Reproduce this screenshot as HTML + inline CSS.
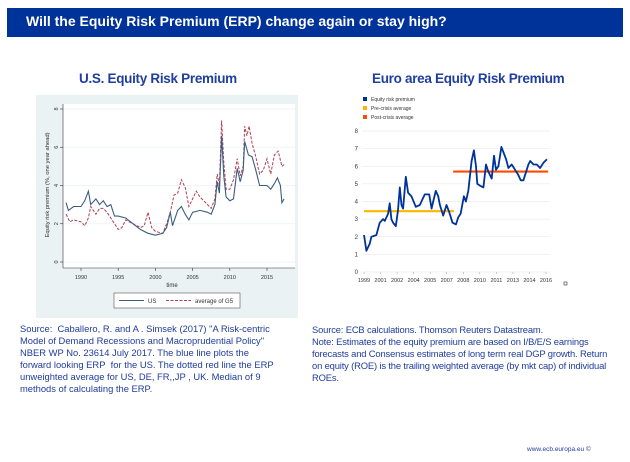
<!DOCTYPE html>
<html><head><meta charset="utf-8"><style>
body{margin:0;width:630px;height:462px;background:#fff;font-family:"Liberation Sans",sans-serif;position:relative;overflow:hidden}
.t{position:absolute;white-space:nowrap}
.note{position:absolute;font-size:9.4px;line-height:12px;color:#1f3c9c;letter-spacing:0px;white-space:nowrap}
</style></head><body>
<div style="position:absolute;left:7px;top:8px;width:616px;height:29px;background:#003399"></div>
<div class="t" style="left:26px;top:13px;font-size:14px;font-weight:bold;color:#fff">Will the Equity Risk Premium (ERP) change again or stay high?</div>
<div class="t" style="left:79px;top:71px;font-size:13.5px;font-weight:bold;color:#1f3f9f;letter-spacing:-0.3px">U.S. Equity Risk Premium</div>
<div class="t" style="left:372px;top:71px;font-size:13.5px;font-weight:bold;color:#1f3f9f;letter-spacing:-0.3px">Euro area Equity Risk Premium</div>
<svg id="svg" width="630" height="462" style="position:absolute;left:0;top:0" font-family="Liberation Sans, sans-serif"></svg>
<div class="note" style="left:20px;top:323px">Source:&nbsp; Caballero, R. and A . Simsek (2017) "A Risk-centric<br>Model of Demand Recessions and Macroprudential Policy"<br>NBER WP No. 23614 July 2017. The blue line plots the<br>forward looking ERP&nbsp; for the US. The dotted red line the ERP<br>unweighted average for US, DE, FR,,JP , UK. Median of 9<br>methods of calculating the ERP.</div>
<div class="note" style="left:312px;top:324px;letter-spacing:-0.15px">Source: ECB calculations. Thomson Reuters Datastream.<br>Note: Estimates of the equity premium are based on I/B/E/S earnings<br>forecasts and Consensus estimates of long term real DGP growth. Return<br>on equity (ROE) is the trailing weighted average (by mkt cap) of individual<br>ROEs.</div>
<div class="t" style="left:527px;top:446px;font-size:6.5px;color:#1f3c9c">www.ecb.europa.eu ©</div>
<script>
// US chart data
const usYears=[1988,1988.3,1989,1990,1990.5,1991,1991.3,1992,1992.5,1993,1993.5,1994,1994.5,1995,1996,1997,1998,1999,2000,2001,2001.5,2002,2002.3,2003,2003.5,2004,2004.5,2005,2006,2007,2007.5,2008,2008.3,2008.6,2008.9,2009.2,2009.5,2010,2010.5,2011,2011.4,2011.8,2012,2012.5,2013,2013.5,2014,2015,2015.5,2016,2016.4,2016.8,2017,2017.3];
const usValues=[3.1,2.7,2.9,2.9,3.2,3.7,3.0,3.3,3.0,3.2,2.9,3.0,2.4,2.4,2.3,2.0,1.7,1.5,1.4,1.5,1.8,2.6,1.9,2.7,2.9,2.5,2.2,2.6,2.7,2.6,2.5,3.0,4.2,3.6,6.6,4.5,3.4,3.2,3.3,4.9,4.2,4.8,6.3,5.6,5.5,4.8,4.0,4.0,3.8,4.1,4.4,4.0,3.1,3.3];
const g5Years=[1988,1988.5,1989,1990,1990.5,1991,1991.3,1992,1992.5,1993,1993.5,1994,1995,1995.5,1996,1997,1998,1998.5,1999,1999.5,2000,2001,2001.5,2002,2002.5,2003,2003.5,2004,2004.5,2005,2005.5,2006,2006.5,2007,2007.5,2008,2008.3,2008.6,2008.9,2009.2,2009.5,2010,2010.5,2011,2011.4,2011.8,2012,2012.3,2012.6,2013,2013.5,2014,2014.5,2015,2015.5,2016,2016.5,2017,2017.3];
const g5Values=[2.5,2.1,2.2,2.1,1.9,2.3,2.9,2.5,2.8,2.8,2.6,2.3,1.7,1.8,2.2,2.0,1.8,1.9,2.6,1.8,1.6,1.5,2.0,2.6,3.5,3.6,4.3,3.9,2.9,3.3,3.7,3.4,3.2,3.0,2.8,3.3,4.6,4.0,7.4,5.2,3.8,3.8,4.3,5.4,4.5,5.0,7.1,6.6,7.1,6.2,5.5,4.6,4.8,5.4,4.6,5.6,5.8,5.0,5.1];
const usXTicks=[1990,1995,2000,2005,2010,2015];
const usYTicks=[0,2,4,6,8];
// Euro chart data
const euYears=[1999.0,1999.22,1999.53,1999.69,2000.16,2000.47,2000.78,2000.94,2001.25,2001.4,2001.56,2001.72,2001.97,2002.18,2002.34,2002.5,2002.65,2002.9,2003.12,2003.43,2003.84,2004.21,2004.68,2005.09,2005.31,2005.46,2005.71,2005.93,2006.09,2006.4,2006.71,2006.96,2007.27,2007.59,2007.8,2008.02,2008.33,2008.52,2008.74,2009.05,2009.27,2009.46,2009.58,2009.83,2010.15,2010.4,2010.61,2010.93,2011.14,2011.33,2011.55,2011.83,2012.02,2012.27,2012.49,2012.8,2013.11,2013.42,2013.64,2013.89,2014.36,2014.52,2014.83,2015.14,2015.45,2015.77,2016.08];
const euValues=[2.1,1.2,1.6,2.0,2.1,2.8,3.0,2.9,3.3,3.9,3.0,2.8,2.6,3.5,4.8,3.8,3.6,5.4,4.5,4.3,3.7,3.8,4.4,4.4,3.6,4.0,4.6,4.3,3.8,3.2,3.8,3.4,2.8,2.7,3.1,3.3,4.3,4.0,4.6,6.3,6.9,6.0,5.0,4.9,4.8,6.1,5.7,5.3,6.6,5.8,6.0,7.1,6.8,6.4,5.9,6.1,5.8,5.5,5.2,5.2,6.1,6.3,6.1,6.1,5.9,6.2,6.4];
const euPre=[1999.0,2007.4,3.45];
const euPost=[2007.33,2016.2,5.7];
const euXLabels=["1999","2001","2002","2004","2005","2007","2008","2010","2011","2013","2014","2016"];
const euYTicks=[0,1,2,3,4,5,6,7,8];

const svg=document.getElementById('svg');
const NS='http://www.w3.org/2000/svg';
function mk(tag,attrs,parent){const e=document.createElementNS(NS,tag);for(const k in attrs)e.setAttribute(k,attrs[k]);(parent||svg).appendChild(e);return e;}
function txt(x,y,s,size,fill,anchor,parent){const e=mk('text',{x:x,y:y,'font-size':size,fill:fill,'text-anchor':anchor||'start'},parent);e.textContent=s;return e;}

// ---- US chart
const ux=y=>81+(y-1990)*(186/25);
const uy=v=>262-v*(153/8);
const bg=mk('rect',{x:36,y:95,width:262,height:223,fill:'#eaf2f3'});


const pa=mk('rect',{x:63,y:104,width:232,height:164,fill:'#fff'});


usYTicks.forEach(v=>{
  const g=mk('line',{x1:63,x2:295,y1:uy(v),y2:uy(v),stroke:'#eaf2f3','stroke-width':0.8});
  
  
  mk('line',{x1:60,x2:63,y1:uy(v),y2:uy(v),stroke:'#333','stroke-width':0.6});
  const t=txt(58,uy(v),String(v),5.5,'#333','middle');
  t.setAttribute('transform',`rotate(-90 58 ${uy(v)})`);
  
  
});
mk('line',{x1:63,x2:63,y1:104,y2:268,stroke:'#333','stroke-width':0.6});
mk('line',{x1:63,x2:295,y1:268,y2:268,stroke:'#333','stroke-width':0.6});
usXTicks.forEach(y=>{
  mk('line',{x1:ux(y),x2:ux(y),y1:268,y2:271,stroke:'#333','stroke-width':0.6});
  const t=txt(ux(y),279,String(y),5.5,'#333','middle');
  
  
});
const xt=txt(172,287,'time',6,'#333','middle');


const yt=txt(49,185,'Equity risk premium (%, one year ahead)',5.8,'#333','middle');
yt.setAttribute('transform','rotate(-90 49 185)');


function pts(xs,vs,fx,fy){return xs.map((x,i)=>fx(x).toFixed(1)+','+fy(vs[i]).toFixed(1)).join(' ');}
const g5=mk('polyline',{points:pts(g5Years,g5Values,ux,uy),fill:'none',stroke:'#b04050','stroke-width':1,'stroke-dasharray':'3,1.5'});


const us=mk('polyline',{points:pts(usYears,usValues,ux,uy),fill:'none',stroke:'#3d5d80','stroke-width':1.1});


const lg=mk('rect',{x:114,y:293,width:126,height:15,fill:'#fff',stroke:'#333','stroke-width':0.5});


mk('line',{x1:119,x2:144,y1:300.5,y2:300.5,stroke:'#3d5d80','stroke-width':1});
const l1=txt(148,303,'US',6,'#333');


mk('line',{x1:166,x2:191,y1:300.5,y2:300.5,stroke:'#b04050','stroke-width':1,'stroke-dasharray':'3,1.5'});
const l2=txt(195,303,'average of G5',6,'#333');



// ---- Euro chart
const ex=y=>364+(y-1999)*(182/17);
const ey=v=>272-v*(141/8);
euYTicks.forEach(v=>{
  const g=mk('line',{x1:362,x2:550,y1:ey(v),y2:ey(v),stroke:'#e4e4e4','stroke-width':0.6});
  
  
  const t=txt(358,ey(v)+2,String(v),6,'#333','end');
  
  
});
euXLabels.forEach((s,i)=>{
  const x=364+i*(182/11);
  mk('line',{x1:x,x2:x,y1:272,y2:274,stroke:'#999','stroke-width':0.5});
  const t=txt(x,282,s,5.5,'#333','middle');
  
  
});
const pre=mk('line',{x1:ex(euPre[0]),x2:ex(euPre[1]),y1:ey(euPre[2]),y2:ey(euPre[2]),stroke:'#ffb400','stroke-width':2.2});


const post=mk('line',{x1:ex(euPost[0]),x2:ex(euPost[1]),y1:ey(euPost[2]),y2:ey(euPost[2]),stroke:'#ff4b00','stroke-width':2.2});


const eu=mk('polyline',{points:pts(euYears,euValues,ex,ey),fill:'none',stroke:'#003399','stroke-width':1.8,'stroke-linejoin':'round'});


[['Equity risk premium','#003399',100],['Pre-crisis average','#ffb400',109],['Post-crisis average','#ff4b00',118]].forEach(([s,c,y])=>{
  mk('rect',{x:363,y:y-3,width:4,height:4,fill:c});
  const t=txt(371,y+1,s,5,'#333');
  
  
});
const ic=mk('rect',{x:564,y:282,width:3,height:3,fill:'none',stroke:'#333','stroke-width':0.6});


</script>
</body></html>
